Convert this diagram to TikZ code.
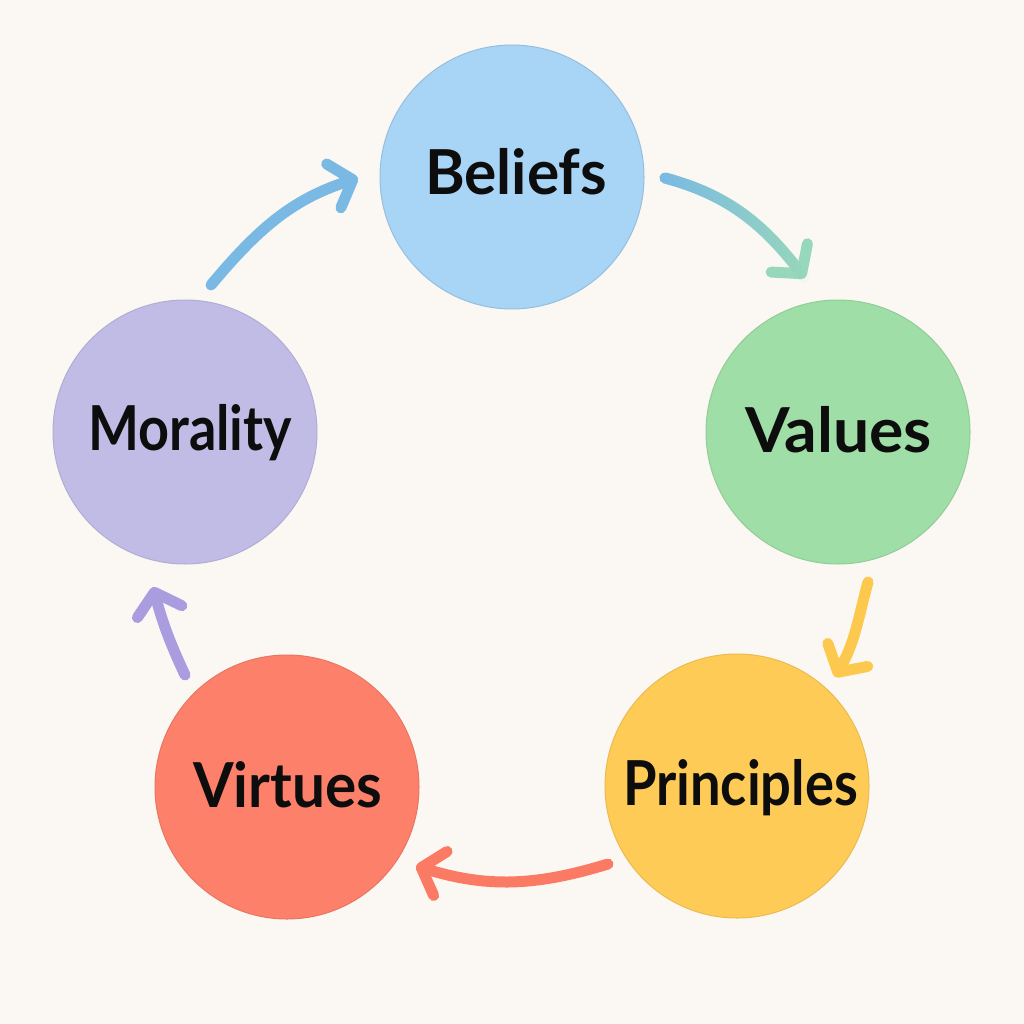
\documentclass[tikz,border=0pt]{standalone}
\usepackage{fontspec}
\setmainfont{Lato}
\usetikzlibrary{arrows.meta,fadings}
\definecolor{bg}{HTML}{FBF8F4}
\definecolor{cBel}{HTML}{A8D4F6}
\definecolor{cVal}{HTML}{9FDEA6}
\definecolor{cPri}{HTML}{FECB57}
\definecolor{cVir}{HTML}{FD806A}
\definecolor{cMor}{HTML}{C0BCE6}
\definecolor{aBlue}{HTML}{7AB9E4}
\definecolor{aTeal}{HTML}{98D8BA}
\definecolor{aYel}{HTML}{FDC84E}
\definecolor{aRed}{HTML}{FB7A63}
\definecolor{aPur}{HTML}{A99CDF}
\tikzset{
  bubble/.style={circle, minimum size=264pt, inner sep=0pt, line width=1pt},
  lbl/.style={anchor=base, inner sep=0pt, text=black!95,
    font=\fontsize{62}{70}\selectfont\bfseries},
  cyc/.style={line width=11pt, line cap=round,
    -{Straight Barb[length=20pt, width=46pt, round]}},
}
\newcommand{\fitw}[2]{\resizebox{#1pt}{\height}{#2}}
\begin{document}
\begin{tikzpicture}[x=1pt,y=-1pt]
\fill[bg] (0,0) rectangle (1024,1024);
\useasboundingbox (0,0) rectangle (1024,1024);
\node[bubble, fill=cBel, draw=cBel!90!black] (bel) at (512,177) {};
\node[bubble, fill=cVal, draw=cVal!92!black] (val) at (838,432) {};
\node[bubble, fill=cPri, draw=cPri!92!black] (pri) at (737,786) {};
\node[bubble, fill=cVir, draw=cVir!92!black] (vir) at (287,787) {};
\node[bubble, fill=cMor, draw=cMor!92!black] (mor) at (185,432) {};
\node[lbl] (belT) at (516,195) {\fitw{182}{Beliefs}};
\node[lbl] (valT) at (838.5,452) {\fitw{187}{Values}};
\node[lbl] (priT) at (740.5,805) {\fitw{235}{Principles}};
\node[lbl] (virT) at (287.5,807) {\fitw{189}{Virtues}};
\node[lbl] (morT) at (190,450) {\fitw{204}{Morality}};
% arrow endpoints
\coordinate (a1s) at (665,178); \coordinate (a1e) at (805,278);
\coordinate (a2s) at (868,582); \coordinate (a2e) at (835,677);
\coordinate (a3s) at (608,864); \coordinate (a3e) at (416,866);
\coordinate (a4s) at (185,675); \coordinate (a4e) at (153,587);
\coordinate (a5s) at (211,285); \coordinate (a5e) at (358,178);
\draw[cyc, aTeal] (a1s) to[out=-15, in=128] (a1e);
\draw[line width=11pt, line cap=round, aBlue, path fading=east]
  (a1s) to[out=-15, in=128] (a1e);
\draw[cyc, aYel] (a2s) to[out=-105, in=60] (a2e);
\draw[cyc, aRed] (a3s) to[out=197, in=-17] (a3e);
\draw[cyc, aPur] (a4s) to[out=115, in=-75] (a4e);
\draw[cyc, aBlue] (a5s) to[out=50, in=-162] (a5e);
\end{tikzpicture}
\end{document}
